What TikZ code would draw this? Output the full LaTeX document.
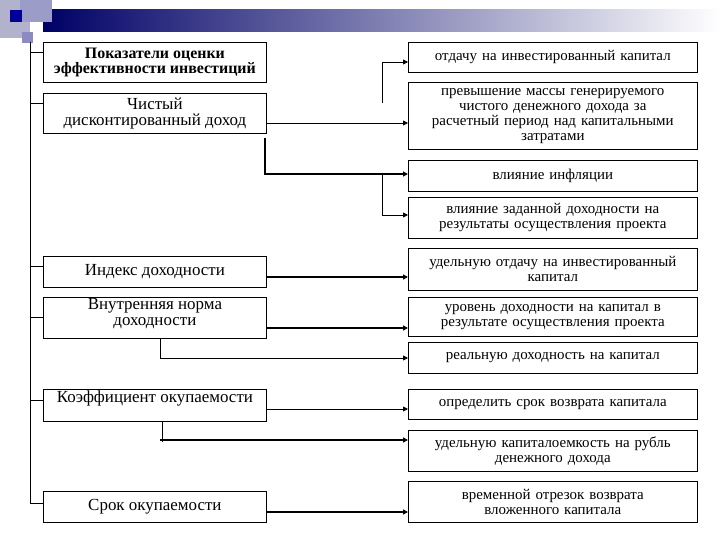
\documentclass[tikz,border=0pt]{standalone}
\usepackage{fontspec}
\setmainfont{Liberation Serif}
\usetikzlibrary{arrows.meta}
\begin{document}
\begin{tikzpicture}[x=1bp,y=-1bp,
 lbox/.style={draw,line width=0.8bp,minimum width=223bp,inner sep=1bp,align=center,font=\fontsize{17}{16}\selectfont,anchor=north west},
 rbox/.style={draw,line width=0.6bp,minimum width=289bp,text width=287bp,inner sep=1bp,align=center,font=\fontsize{15}{15}\selectfont,anchor=north west},
 conn/.style={line width=0.8bp,-{Triangle[length=5bp,width=5bp]}},
 thick conn/.style={conn,line width=1.6bp}]
\useasboundingbox (0,0) rectangle (720,540);
% header decoration
\shade[left color=blue!40!black, right color=white] (43,10) rectangle (720,32);
\fill[blue!20!gray!50] (0,0) rectangle (30,38);
\fill[blue!30!gray!60] (20,0) rectangle (52,22);
\fill[blue!30!gray!70] (22,32) rectangle (33,43);
\fill[blue!60!black] (10,10) rectangle (22,22);
% left boxes
\node[lbox,minimum height=40bp,font=\bfseries\fontsize{16}{15}\selectfont] (L1) at (43,42) {Показатели оценки\\эффективности инвестиций};
\node[lbox,minimum height=40bp] (L2) at (43,93) {Чистый\\дисконтированный доход};
\node[lbox,minimum height=31bp] (L3) at (43,256) {Индекс доходности};
\node[lbox,minimum height=41bp] (L4) at (43,297) {Внутренняя норма\\доходности\\[-4bp]};
\node[lbox,minimum height=30bp] (L5) at (43,389) {Коэффициент окупаемости\\[2bp]};
\node[lbox,minimum height=31bp] (L6) at (43,491) {Срок окупаемости};
% right boxes
\node[rbox,minimum height=30bp] (R1) at (408,42) {отдачу на инвестированный капитал};
\node[rbox,minimum height=67bp] (R2) at (408,82) {превышение массы генерируемого\\чистого денежного дохода за\\расчетный период над капитальными\\затратами};
\node[rbox,minimum height=31bp] (R3) at (408,160) {влияние инфляции};
\node[rbox,minimum height=41bp] (R4) at (408,197) {влияние заданной доходности на\\результаты осуществления проекта};
\node[rbox,minimum height=42bp] (R5) at (408,248) {удельную отдачу на инвестированный\\капитал};
\node[rbox,minimum height=39bp] (R6) at (408,297) {уровень доходности на капитал в\\результате осуществления проекта};
\node[rbox,minimum height=31bp] (R7) at (408,342) {реальную доходность на капитал};
\node[rbox,minimum height=30bp] (R8) at (408,389) {определить срок возврата капитала};
\node[rbox,minimum height=41bp] (R9) at (408,430) {удельную капиталоемкость на рубль\\денежного дохода};
\node[rbox,minimum height=41bp] (R10) at (408,481) {временной отрезок возврата\\вложенного капитала};
% left spine
\draw[line width=0.8bp] (30,42) -- (30,503);
\foreach \n/\y in {L1/52,L2/103,L3/266,L4/317,L5/400,L6/503}
  \draw[line width=0.8bp] (30,\y) -- (\n.west |- 0,\y);
% connectors
\coordinate (a1) at (382,103);
\draw[conn] (a1) |- (R1.west |- 0,62);
\draw[conn] (L2.east |- 0,123) -- (R2.west |- 0,123);
\coordinate (a2) at (265,138);
\draw[thick conn] (a2) |- (R3.west |- 0,174);
\coordinate (a3) at (382,174);
\draw[conn] (a3) |- (R4.west |- 0,215);
\draw[thick conn] (L3.east |- 0,277) -- (R5.west |- 0,277);
\draw[thick conn] (L4.east |- 0,328) -- (R6.west |- 0,328);
\draw[conn] (L4.south west) ++(117,0) coordinate (a4) |- (R7.west |- 0,358);
\draw[conn] (L5.east |- 0,409) -- (R8.west |- 0,409);
\draw[line width=0.8bp] (L5.south west) ++(119,0) coordinate (a5) -- ++(0,21);
\draw[thick conn] (160,440) -- (R9.west |- 0,440);
\draw[thick conn] (L6.east |- 0,512) -- (R10.west |- 0,512);
\end{tikzpicture}
\end{document}
